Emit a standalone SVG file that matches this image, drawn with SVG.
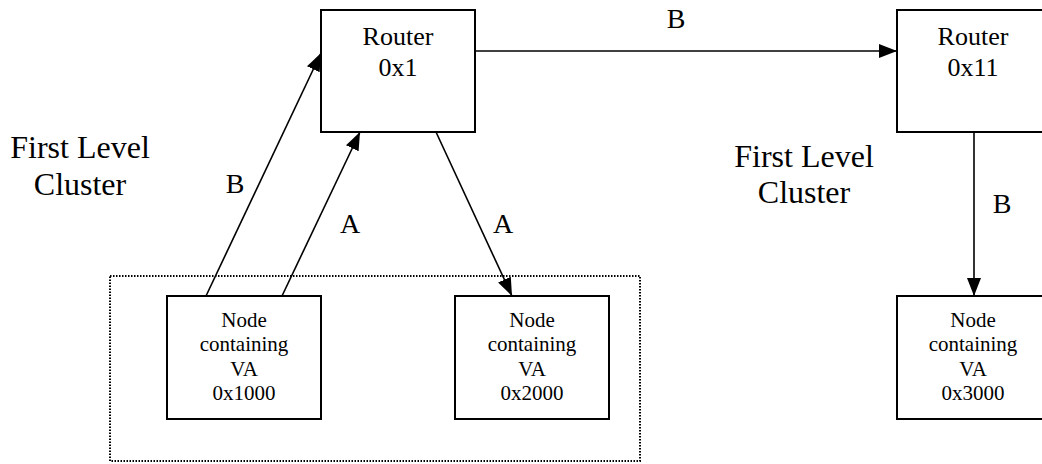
<svg xmlns="http://www.w3.org/2000/svg" width="1042" height="464" viewBox="0 0 1042 464">
<style>
.box{fill:#fff;stroke:#000;stroke-width:2}
.t{font-family:"Liberation Serif","Times New Roman",serif;fill:#000;text-anchor:middle}
.rt{font-size:26px}
.nt{font-size:21px}
.lab{font-size:28px}
.cl{font-size:32px}
.conn{stroke:#000;stroke-width:1.6;fill:none;marker-end:url(#ah)}
</style>
<defs>
<marker id="ah" markerUnits="userSpaceOnUse" markerWidth="18" markerHeight="14" refX="18" refY="7" orient="auto">
<path d="M0,0 L18,7 L0,14 z" fill="#000"/>
</marker>
</defs>
<rect x="0" y="0" width="1042" height="464" fill="#fff"/>
<g id="cluster">
<rect x="110" y="276" width="530" height="185" fill="none" stroke="#000" stroke-width="2" stroke-dasharray="1.5 1.5"/>
</g>
<g id="router1">
<rect class="box" x="321" y="10" width="154" height="122"/>
<text class="t rt" x="398" y="45">Router</text>
<text class="t rt" x="398" y="76">0x1</text>
</g>
<g id="router11">
<rect class="box" x="897" y="10" width="152" height="122"/>
<text class="t rt" x="973" y="45">Router</text>
<text class="t rt" x="973" y="76">0x11</text>
</g>
<g id="node1000">
<rect class="box" x="167" y="296" width="154" height="123"/>
<text class="t nt" x="244" y="327">Node</text>
<text class="t nt" x="244" y="351">containing</text>
<text class="t nt" x="244" y="376">VA</text>
<text class="t nt" x="244" y="400">0x1000</text>
</g>
<g id="node2000">
<rect class="box" x="455" y="296" width="154" height="123"/>
<text class="t nt" x="532" y="327">Node</text>
<text class="t nt" x="532" y="351">containing</text>
<text class="t nt" x="532" y="376">VA</text>
<text class="t nt" x="532" y="400">0x2000</text>
</g>
<g id="node3000">
<rect class="box" x="897" y="296" width="152" height="123"/>
<text class="t nt" x="973" y="327">Node</text>
<text class="t nt" x="973" y="351">containing</text>
<text class="t nt" x="973" y="376">VA</text>
<text class="t nt" x="973" y="400">0x3000</text>
</g>
<g id="connectors">
<line class="conn" x1="475" y1="51" x2="897" y2="51"/>
<line class="conn" x1="206" y1="296" x2="321" y2="53"/>
<line class="conn" x1="282" y1="296" x2="360" y2="132"/>
<line class="conn" x1="436" y1="132" x2="512" y2="296"/>
<line class="conn" x1="974" y1="132" x2="974" y2="296"/>
</g>
<g id="labels">
<text class="t lab" x="676" y="28">B</text>
<text class="t lab" x="235" y="193">B</text>
<text class="t lab" x="350" y="233">A</text>
<text class="t lab" x="503" y="233">A</text>
<text class="t lab" x="1002" y="213">B</text>
<text class="t cl" x="80" y="158">First Level</text>
<text class="t cl" x="80" y="195">Cluster</text>
<text class="t cl" x="804" y="167">First Level</text>
<text class="t cl" x="804" y="203">Cluster</text>
</g>
</svg>
